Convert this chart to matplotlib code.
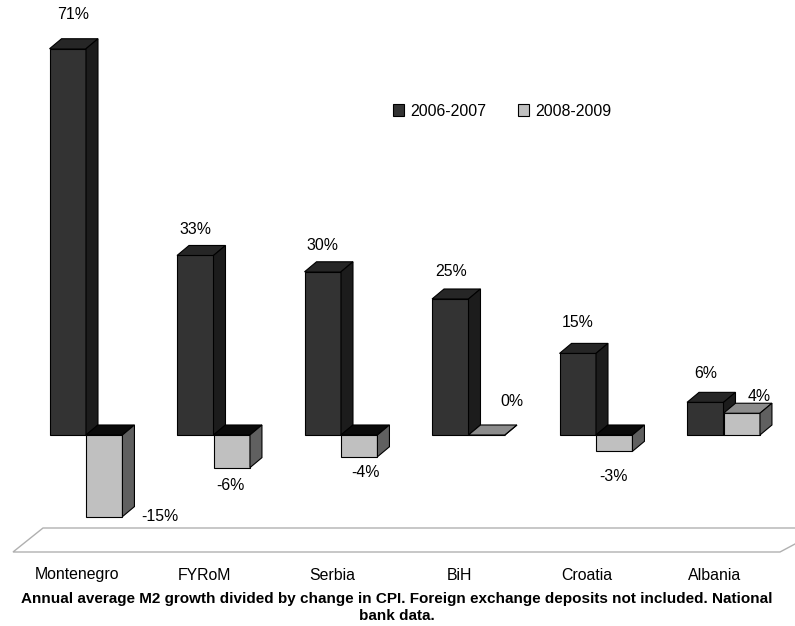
import matplotlib.pyplot as plt
from matplotlib.patches import Polygon, Patch

countries = ['Montenegro', 'FYRoM', 'Serbia', 'BiH', 'Croatia', 'Albania']
growth_0607 = [71, 33, 30, 25, 15, 6]
growth_0809 = [-15, -6, -4, 0, -3, 4]
series_names = ['2006-2007', '2008-2009']

caption = ('Annual average M2 growth divided by change in CPI. Foreign exchange deposits not included. National\n'
           'bank data.')

# label nudges (pixels) from the front-face centre at the end of each bar
nudge_0607 = [(5, 34), (0, 26), (0, 26), (1, 27), (0, 31), (0, 29)]
nudge_0809 = [(56, 0), (-1, -18), (6, -16), (25, 33), (-1, -25), (17, 17)]

plt.rcParams['font.family'] = ['Liberation Sans', 'DejaVu Sans']
FS = 11.4

W, H = 795, 626
fig = plt.figure(figsize=(W / 100, H / 100), dpi=100)
ax = fig.add_axes([0, 0, 1, 1])
# 127.5 px per category, 5.44 px per percentage point, zero line at y=435 px
ax.set_xlim(-86 / 127.5, (W - 86) / 127.5)
ax.set_ylim((435 - H) / 5.44, 435 / 5.44)
ax.axis('off')

bw = 0.286            # bar width in category units
dx, dy = 0.094, 1.84  # 3D depth offset

# floor of the 3D chart
floor = [(13, 552), (43, 528), (825, 528), (780, 552)]
fig.patches.append(Polygon([(x / W, 1 - y / H) for x, y in floor], closed=True,
                           transform=fig.transFigure, facecolor='white',
                           edgecolor='#b0b0b0', linewidth=1.0, zorder=0))

styles = [
    dict(front='#333333', side='#1c1c1c', top='#262626', top_neg='#0a0a0a'),
    dict(front='#c0c0c0', side='#606060', top='#8c8c8c', top_neg='#0a0a0a'),
]

for s, (vals, nudges) in enumerate([(growth_0607, nudge_0607), (growth_0809, nudge_0809)]):
    st = styles[s]
    z = 2 + 2 * s
    lefts = [i - bw + s * bw for i in range(len(countries))]
    ax.bar(lefts, vals, width=bw, align='edge', color=st['front'],
           edgecolor='black', linewidth=0.8, zorder=z)
    for x0, v, (nx, ny) in zip(lefts, vals, nudges):
        x1 = x0 + bw
        lo, hi = min(v, 0), max(v, 0)
        top_col = st['top_neg'] if v < 0 else st['top']
        top = [(x0, hi), (x1, hi), (x1 + dx, hi + dy), (x0 + dx, hi + dy)]
        side = [(x1, lo), (x1, hi), (x1 + dx, hi + dy), (x1 + dx, lo + dy)]
        ax.add_patch(Polygon(top, closed=True, facecolor=top_col,
                             edgecolor='black', linewidth=0.8, zorder=z))
        ax.add_patch(Polygon(side, closed=True, facecolor=st['side'],
                             edgecolor='black', linewidth=0.8, zorder=z))
        ax.annotate(f'{v}%', xy=(x0 + bw / 2, v), xytext=(nx, ny),
                    textcoords='offset pixels', ha='center', va='center',
                    fontsize=FS, color='black', zorder=10)

for i, name in enumerate(countries):
    ax.text(i - 0.07, 1 - 575 / H, name, transform=ax.get_xaxis_transform(),
            ha='center', va='center', fontsize=FS)

handles = [Patch(facecolor=styles[k]['front'], edgecolor='black', linewidth=0.8)
           for k in range(2)]
fig.legend(handles, series_names, loc='center', bbox_to_anchor=(502 / W, 1 - 111 / H),
           ncol=2, frameon=False, handlelength=0.7, handleheight=0.7,
           handletextpad=0.4, columnspacing=2.0, fontsize=FS)

fig.text(397 / W, 1 - 607.5 / H, caption, ha='center', va='center',
         fontsize=11.0, fontweight='bold', linespacing=1.3)

fig.savefig('out.png', dpi=100)
